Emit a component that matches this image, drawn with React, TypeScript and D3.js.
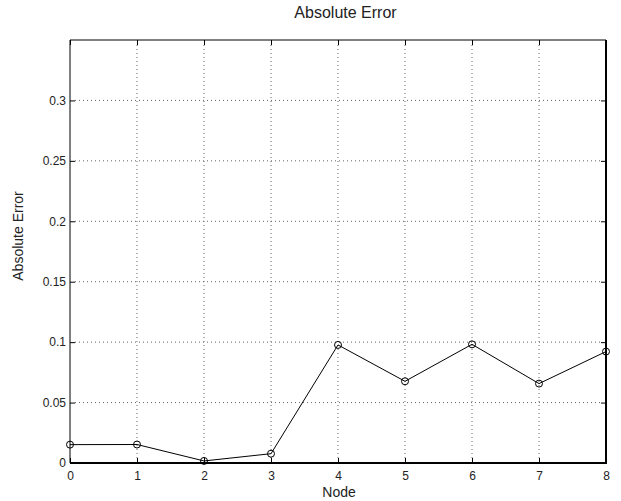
import React, { useRef, useEffect } from 'react';
import * as d3 from 'd3';

// values
const nodes = [0, 1, 2, 3, 4, 5, 6, 7, 8];
const absError = [0.0152, 0.0153, 0.0017, 0.0077, 0.0977, 0.0676, 0.0982, 0.0657, 0.0922];
const yTicks = [0, 0.05, 0.1, 0.15, 0.2, 0.25, 0.3];
const yTickLabels = ['0', '0.05', '0.1', '0.15', '0.2', '0.25', '0.3'];

const FONT = "'Liberation Sans', Arial, Helvetica, sans-serif";

const App = () => {
  const ref = useRef<SVGSVGElement>(null);

  useEffect(() => {
    const svg = d3.select(ref.current);
    svg.selectAll('*').remove();

    const width = 621, height = 501;
    const left = 70, right = 606, top = 40, bottom = 463;

    svg.attr('width', width).attr('height', height);
    svg.append('rect').attr('width', width).attr('height', height).attr('fill', '#fff');

    const x = d3.scaleLinear().domain([0, 8]).range([left, right]);
    const y = d3.scaleLinear().domain([0, 0.35]).range([bottom, top]);

    // dotted grid
    const grid = svg.append('g')
      .attr('stroke', '#666')
      .attr('stroke-width', 1)
      .attr('stroke-dasharray', '1,3');
    grid.selectAll('line.gx')
      .data(nodes.slice(1, -1))
      .enter()
      .append('line')
      .attr('x1', (d) => x(d)).attr('x2', (d) => x(d))
      .attr('y1', top + 5).attr('y2', bottom - 5);
    grid.selectAll('line.gy')
      .data(yTicks.slice(1))
      .enter()
      .append('line')
      .attr('x1', left + 5).attr('x2', right - 5)
      .attr('y1', (d) => y(d)).attr('y2', (d) => y(d));

    // axes with inward ticks (box style)
    const styleAxis = (g: any) => {
      g.select('.domain').remove();
      g.selectAll('.tick line').attr('stroke', '#000');
      g.selectAll('.tick text')
        .attr('fill', '#222')
        .attr('font-family', FONT)
        .attr('font-size', 12);
    };

    svg.append('g')
      .attr('transform', `translate(0,${bottom})`)
      .call(d3.axisBottom(x).tickValues(nodes).tickSize(-5).tickPadding(8.5).tickFormat(d3.format('d')))
      .call(styleAxis);

    svg.append('g')
      .attr('transform', `translate(0,${top})`)
      .call(d3.axisTop(x).tickValues(nodes).tickSize(-5).tickFormat(() => ''))
      .call(styleAxis);

    svg.append('g')
      .attr('transform', `translate(${left},0)`)
      .call(d3.axisLeft(y).tickValues(yTicks).tickSize(-5).tickPadding(4)
        .tickFormat((d, i) => yTickLabels[i]))
      .call(styleAxis);

    svg.append('g')
      .attr('transform', `translate(${right},0)`)
      .call(d3.axisRight(y).tickValues(yTicks).tickSize(-5).tickFormat(() => ''))
      .call(styleAxis);

    // box
    svg.append('path')
      .attr('d', `M${left},${bottom}V${top}H${right}`)
      .attr('fill', 'none').attr('stroke', '#000').attr('stroke-width', 1);
    svg.append('path')
      .attr('d', `M${left},${bottom}H${right}V${top}`)
      .attr('fill', 'none').attr('stroke', '#000').attr('stroke-width', 2);

    // series
    const line = d3.line<number>()
      .x((d, i) => x(nodes[i]))
      .y((d) => y(d));

    svg.append('path')
      .datum(absError)
      .attr('d', line)
      .attr('fill', 'none')
      .attr('stroke', '#000')
      .attr('stroke-width', 1);

    svg.selectAll('circle.pt')
      .data(absError)
      .enter()
      .append('circle')
      .attr('cx', (d, i) => x(nodes[i]))
      .attr('cy', (d) => y(d))
      .attr('r', 3.5)
      .attr('fill', 'none')
      .attr('stroke', '#000')
      .attr('stroke-width', 1);

    // labels
    svg.append('text')
      .attr('x', 345.5).attr('y', 18)
      .attr('text-anchor', 'middle')
      .attr('fill', '#222')
      .attr('font-family', FONT).attr('font-size', 16)
      .text('Absolute Error');

    svg.append('text')
      .attr('x', 339).attr('y', 497)
      .attr('text-anchor', 'middle')
      .attr('fill', '#222')
      .attr('font-family', FONT).attr('font-size', 14)
      .text('Node');

    svg.append('text')
      .attr('transform', 'translate(22.5,236) rotate(-90)')
      .attr('text-anchor', 'middle')
      .attr('fill', '#222')
      .attr('font-family', FONT).attr('font-size', 14)
      .text('Absolute Error');
  }, []);

  return (
    <svg ref={ref} style={{ position: 'absolute', left: 0, top: 0, display: 'block' }}></svg>
  );
};

export default App;
